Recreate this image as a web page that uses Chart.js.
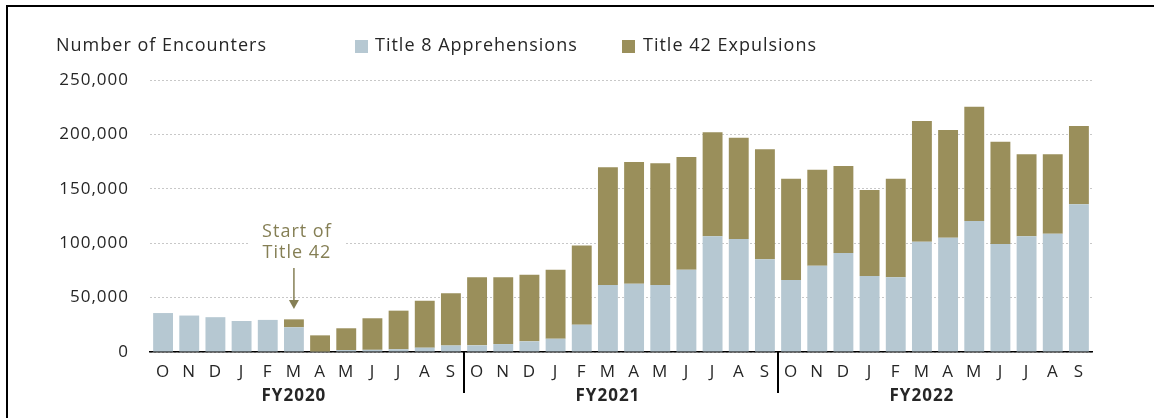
<!DOCTYPE html>
<html>
<head>
<meta charset="utf-8">
<script src="https://cdn.jsdelivr.net/npm/chart.js@4.4.1/dist/chart.umd.min.js"></script>
<style>
  body { margin: 0; background: #fff; }
  #wrap { position: relative; width: 1154px; height: 418px; }
</style>
</head>
<body>
<div id="wrap"><canvas id="Grafica1" width="1154" height="418"></canvas></div>
<script>
// meses por año fiscal (oct - sep)
const meses = ['O','N','D','J','F','M','A','M','J','J','A','S'];
const etiquetas = meses.concat(meses, meses);
const anios = ['FY2020', 'FY2021', 'FY2022'];
const yTicks = [0, 50000, 100000, 150000, 200000, 250000];

const title8 = [35800, 33500, 32000, 28500, 29500, 22700, 300, 1800, 2000, 2500, 4000, 6000,
                6100, 7300, 9800, 12200, 25100, 61600, 62800, 61600, 75600, 106300, 103800, 85200,
                66200, 79300, 91000, 69800, 68600, 101400, 105000, 120400, 99300, 106300, 108700, 135700];
const title42 = [0, 0, 0, 0, 0, 7300, 15000, 20000, 29000, 35500, 43000, 48000,
                 62500, 61300, 61200, 63400, 72900, 108100, 111800, 111800, 103600, 95600, 93200, 101100,
                 93100, 88300, 80000, 79100, 90700, 110900, 99000, 105000, 94000, 75400, 73000, 72000];

const azul = '#b6c8d2';
const oliva = '#9a8f5b';
const texto = '#262626';
const fuente = '"Open Sans", sans-serif';

// el texto original es mas ancho, se abre un poco el espaciado
const espaciado = {
    id: 'espaciado',
    beforeUpdate(chart) { chart.ctx.letterSpacing = '1px'; },
    beforeDraw(chart) { chart.ctx.letterSpacing = '1px'; }
};

// dibujos extra: marco, titulo del eje, leyenda, nota y años fiscales
const extras = {
    id: 'extras',
    afterDraw(chart) {
        const ctx = chart.ctx;
        const x = chart.scales.x;
        ctx.save();
        ctx.letterSpacing = '1px';
        // marco
        ctx.strokeStyle = '#000';
        ctx.lineWidth = 2;
        ctx.beginPath();
        ctx.moveTo(7, 430);
        ctx.lineTo(7, 6);
        ctx.lineTo(1160, 6);
        ctx.stroke();

        ctx.fillStyle = texto;
        ctx.font = '18px ' + fuente;
        ctx.textBaseline = 'middle';
        ctx.textAlign = 'left';
        ctx.fillText('Number of Encounters', 56, 46);

        // leyenda
        ctx.fillStyle = azul;
        ctx.fillRect(355, 40, 13, 13);
        ctx.fillStyle = texto;
        ctx.fillText('Title 8 Apprehensions', 375, 46);
        ctx.fillStyle = oliva;
        ctx.fillRect(622, 40, 13, 13);
        ctx.fillStyle = texto;
        ctx.fillText('Title 42 Expulsions', 643, 46);

        // nota de inicio del Title 42
        const xm = x.getPixelForValue(5);
        ctx.fillStyle = '#fff';
        ctx.fillRect(xm - 45, 222, 96, 42);
        ctx.fillStyle = '#857f55';
        ctx.textAlign = 'center';
        ctx.fillText('Start of', xm + 3, 232);
        ctx.fillText('Title 42', xm + 3, 253);
        ctx.strokeStyle = '#857f55';
        ctx.lineWidth = 1.5;
        ctx.beginPath();
        ctx.moveTo(xm, 268);
        ctx.lineTo(xm, 302);
        ctx.stroke();
        ctx.fillStyle = '#857f55';
        ctx.beginPath();
        ctx.moveTo(xm - 5, 300);
        ctx.lineTo(xm + 5, 300);
        ctx.lineTo(xm, 309);
        ctx.closePath();
        ctx.fill();

        // años fiscales y separadores
        ctx.fillStyle = texto;
        ctx.font = 'bold 17px ' + fuente;
        for (let i = 0; i < anios.length; i++) {
            ctx.fillText(anios[i], x.getPixelForValue(i * 12 + 5), 396);
        }
        ctx.strokeStyle = '#000';
        ctx.lineWidth = 2;
        for (let i = 1; i < anios.length; i++) {
            const xs = (x.getPixelForValue(i * 12 - 1) + x.getPixelForValue(i * 12)) / 2;
            ctx.beginPath();
            ctx.moveTo(xs, 352);
            ctx.lineTo(xs, 393);
            ctx.stroke();
        }
        ctx.restore();
    }
};

const chart1 = new Chart(document.getElementById('Grafica1'), {
    type: 'bar',
    data: {
        labels: etiquetas,
        datasets: [{
            label: 'Title 8 Apprehensions',
            data: title8,
            backgroundColor: azul
        }, {
            label: 'Title 42 Expulsions',
            data: title42,
            backgroundColor: oliva
        }]
    },
    options: {
        responsive: false,
        animation: false,
        layout: { padding: { left: 0, right: 62, top: 80, bottom: 0 } },
        plugins: {
            legend: { display: false },
            tooltip: { enabled: false }
        },
        datasets: {
            bar: { categoryPercentage: 1, barPercentage: 0.76 }
        },
        scales: {
            x: {
                stacked: true,
                grid: { display: false },
                border: { color: '#000', width: 1.5 },
                ticks: { color: texto, font: { family: fuente, size: 17 }, padding: 2, maxRotation: 0, autoSkip: false },
                afterFit: (s) => { s.height = 66; }
            },
            y: {
                stacked: true,
                min: 0,
                max: 250000,
                afterBuildTicks: (s) => { s.ticks = yTicks.map(v => ({ value: v })); },
                grid: { color: '#c8c8c8', drawTicks: false, lineWidth: 1 },
                border: { display: false, dash: [2, 2] },
                ticks: {
                    color: texto,
                    font: { family: fuente, size: 17 },
                    padding: 21,
                    callback: (v) => v.toLocaleString('en-US')
                },
                afterFit: (s) => { s.width = 150; }
            }
        }
    },
    plugins: [espaciado, extras]
});
</script>
</body>
</html>
